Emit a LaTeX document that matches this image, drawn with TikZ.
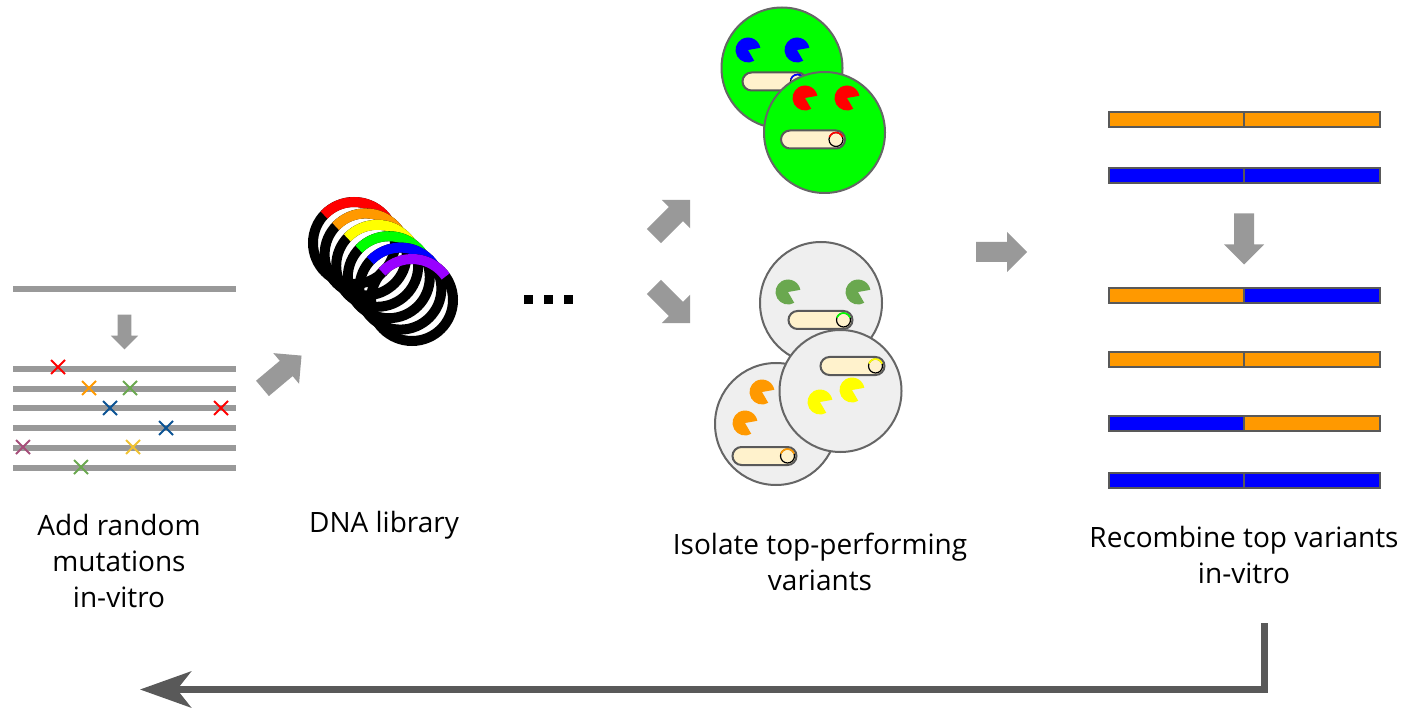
\documentclass[tikz,border=0pt]{standalone}
\usepackage{fontspec}
\setmainfont{Open Sans}
\usetikzlibrary{arrows.meta}

\definecolor{arrowgray}{HTML}{999999}
\definecolor{darkgray}{HTML}{595959}
\definecolor{cellrim}{HTML}{666666}
\definecolor{cellgreen}{HTML}{00FF00}
\definecolor{cellgray}{HTML}{EFEFEF}
\definecolor{cream}{HTML}{FFF2CC}
\definecolor{mutred}{HTML}{FF0000}
\definecolor{mutorange}{HTML}{FF9900}
\definecolor{mutgreen}{HTML}{6AA84F}
\definecolor{mutblue}{HTML}{0B5394}
\definecolor{mutpurple}{HTML}{A64D79}
\definecolor{mutyellow}{HTML}{F1C232}
\definecolor{pacblue}{HTML}{0000FF}
\definecolor{pacyellow}{HTML}{FFFF00}
\definecolor{ringviolet}{HTML}{9900FF}

\tikzset{
    lbl/.style={align=center, font=\fontsize{28}{36}\selectfont},
    dnaline/.style={arrowgray, line width=5.5},
    cell/.style={cellrim, line width=2},
    barpart/.style={darkgray, line width=2},
    blockarrow/.pic={
        \fill[arrowgray] (-25.5,-10) -- (5.5,-10) -- (5.5,-20) -- (25.5,0)
            -- (5.5,20) -- (5.5,10) -- (-25.5,10) -- cycle;
    },
    pacman/.pic={
        \fill (0,0) -- (60:12.5) arc[start angle=60, end angle=350, radius=12.5] -- cycle;
    },
    pics/pill/.style={code={
        \draw[darkgray, line width=2, fill=cream, rounded corners=9] (-32,-9) rectangle (32,9);
        \draw[black, line width=1.2, fill=cream] (23,0) circle (7);
        \draw[#1, line width=1.6] (23,0) ++(-160:7) arc[start angle=-160, end angle=-20, radius=7];
    }},
}

\begin{document}
\begin{tikzpicture}[x=1pt, y=-1pt]
    \useasboundingbox (0,0) rectangle (1405,708);

    % Random mutagenesis
    \draw[dnaline] (13,289) -- (236,289);
    \pic[scale=0.68, rotate=-90] at (124.5,332) {blockarrow};
    \foreach \y in {369,389,408,428,448,468}
        \draw[dnaline] (13,\y) -- (236,\y);
    \foreach \x/\y/\c in {58/367/mutred, 89/388/mutorange, 130/388/mutgreen,
                          110/408/mutblue, 221/408/mutred, 166/428/mutblue,
                          23/447/mutpurple, 133/447/mutyellow, 81/467/mutgreen}
        \draw[\c, line width=2] (\x-7,\y-7) -- (\x+7,\y+7) (\x-7,\y+7) -- (\x+7,\y-7);
    \node[lbl] (addlbl) at (119,561) {Add random\\mutations\\in-vitro};

    \pic[rotate=40] at (282,372) {blockarrow};

    % Plasmid library
    \foreach \c [count=\i from 0] in {mutred,mutorange,pacyellow,cellgreen,pacblue,ringviolet} {
        \draw[line width=10] ({354+11.6*\i},{243+11.4*\i}) circle (41);
        \draw[\c, line width=10] ({354+11.6*\i},{243+11.4*\i}) ++(-137:41)
            arc[start angle=-137, end angle=-35, radius=41];
    }
    \node[lbl] (dnalbl) at (384,525) {DNA library};

    \foreach \x in {528,548,568}
        \fill (\x-4.5,295.5) rectangle (\x+4.5,304.5);

    \pic[rotate=45] at (672,218) {blockarrow};
    \pic[rotate=-45] at (672,305) {blockarrow};

    % Top performers
    \filldraw[cell, fill=cellgreen] (782,68) circle (60.5);
    \pic[pacblue] at (748,50) {pacman};
    \pic[pacblue] at (797,50) {pacman};
    \pic at (774.5,81.5) {pill=pacblue};
    \filldraw[cell, fill=cellgreen] (824.5,132.5) circle (60.5);
    \pic[mutred] at (805,98) {pacman};
    \pic[mutred] at (847,98) {pacman};
    \pic at (813,139.5) {pill=mutred};

    % Other variants
    \filldraw[cell, fill=cellgray] (821,303) circle (61);
    \pic[mutgreen] at (788,292) {pacman};
    \pic[mutgreen] at (858,292) {pacman};
    \pic at (820.5,320) {pill=cellgreen};
    \filldraw[cell, fill=cellgray] (776,424) circle (61);
    \pic[mutorange] at (762,392) {pacman};
    \pic[mutorange] at (745,423) {pacman};
    \pic at (764.5,456) {pill=mutorange};
    \filldraw[cell, fill=cellgray] (840.5,391) circle (61);
    \pic[pacyellow] at (820,402) {pacman};
    \pic[pacyellow] at (852,390) {pacman};
    \pic at (852.5,366) {pill=pacyellow};
    \node[lbl] (isolbl) at (820,562) {Isolate top-performing\\variants};

    \pic at (1001.5,252) {blockarrow};

    % Recombination
    \foreach \y/\l/\r in {119.5/mutorange/mutorange, 176/pacblue/pacblue,
                          295.5/mutorange/pacblue, 359.5/mutorange/mutorange,
                          423.5/pacblue/mutorange, 480.5/pacblue/pacblue} {
        \filldraw[barpart, fill=\l] (1109,\y-7.5) rectangle (1244,\y+7.5);
        \filldraw[barpart, fill=\r] (1244,\y-7.5) rectangle (1380,\y+7.5);
    }
    \pic[rotate=-90] at (1244,239) {blockarrow};
    \node[lbl] (reclbl) at (1244,555) {Recombine top variants\\in-vitro};

    % Next round
    \coordinate (loopstart) at (1264.5,623);
    \coordinate (loopend) at (140,689.5);
    \draw[darkgray, line width=7, -{Stealth[length=51pt, width=36pt, inset=14pt]}]
        (loopstart) |- (loopend);
\end{tikzpicture}
\end{document}
